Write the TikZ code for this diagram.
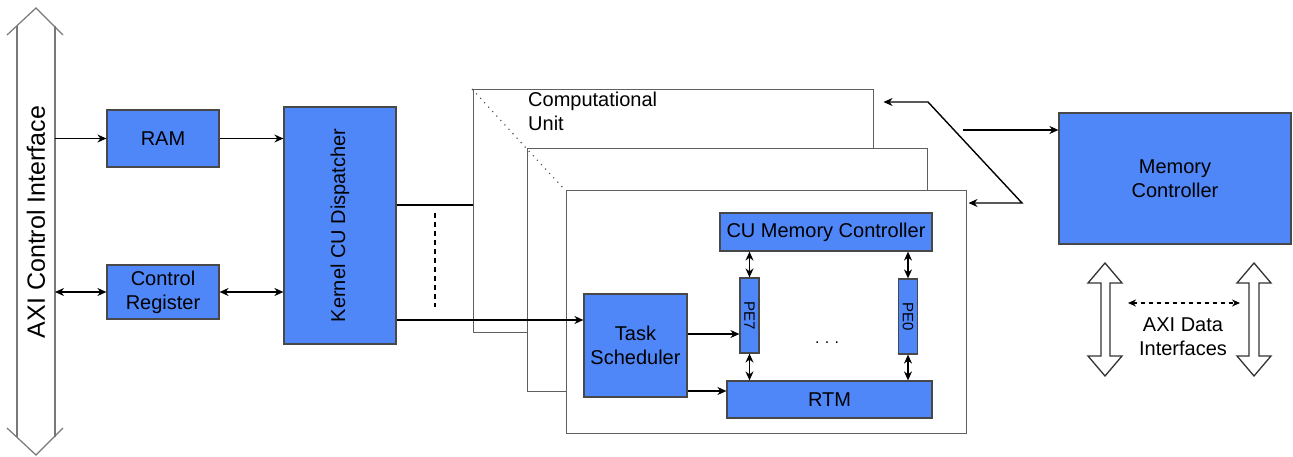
\documentclass[tikz,border=0pt]{standalone}
\usepackage{fontspec}
\setmainfont{Liberation Sans}
\usetikzlibrary{arrows.meta}
\definecolor{blkfill}{RGB}{79,135,248}
\definecolor{blkdraw}{RGB}{72,72,72}
\definecolor{framedraw}{RGB}{95,95,95}
\definecolor{axigrey}{RGB}{120,120,120}
\begin{document}
\begin{tikzpicture}[x=1pt,y=-1pt,
  blk/.style={draw=blkdraw, fill=blkfill, line width=1.2pt, inner sep=1pt, align=center,
    font=\fontsize{20}{24}\selectfont},
  frm/.style={draw=framedraw, fill=white, line width=1pt, minimum width=400pt, minimum height=242pt, inner sep=0pt},
  arr/.style={line width=1.4pt, -{Stealth[length=9pt,width=8pt]}},
  darr/.style={line width=1.4pt, {Stealth[length=9pt,width=8pt]}-{Stealth[length=9pt,width=8pt]}},
  hollow/.style={draw=black!80, fill=white, line width=1.3pt, line join=miter},
  lbl/.style={font=\fontsize{20}{24}\selectfont, align=center, inner sep=0pt}]
\useasboundingbox (0,0) rectangle (1293,457);
\fill[white] (0,0) rectangle (1293,457);

% AXI control interface (open double arrow outline)
\begin{scope}[draw=axigrey, line width=1.2pt]
\draw (7,35) -- (36,8) -- (63,35);
\draw (17,26) -- (17,437);
\draw (55,26) -- (55,437);
\draw (7,428) -- (36,455) -- (63,428);
\end{scope}
\node[lbl, rotate=90, font=\fontsize{25}{30}\selectfont] (axi) at (36,222) {AXI Control Interface};
\coordinate (axiE) at (55,222);

% left blocks
\node[blk, minimum width=112pt, minimum height=57pt] (ram) at (163,138.5) {RAM};
\node[blk, minimum width=112pt, minimum height=54pt] (creg) at (163,292) {Control\\Register};
\node[blk, minimum width=112pt, minimum height=237pt] (kcd) at (340,225.5) {};
\node[lbl, rotate=90] (kcdt) at (kcd.center) {Kernel CU Dispatcher};

% computational unit frames
\node[frm] (f1) at (673,211) {};
\node[frm] (f2) at (727,270) {};
\node[frm] (f3) at (766,312) {};
\draw[black!70, line width=1.6pt, line cap=round, dash pattern=on 0pt off 6pt] (f1.north west) -- (f2.north west) -- (f3.north west);
\node[lbl, anchor=north west, align=left] (cut) at (528,92) {Computational\\Unit};

% inner blocks
\node[blk, minimum width=212pt, minimum height=38pt] (cumc) at (826,232) {CU Memory Controller};
\node[blk, minimum width=103pt, minimum height=103pt] (task) at (635.5,345.5) {Task\\Scheduler};
\node[blk, minimum width=19pt, minimum height=75pt] (pe7) at (749.5,315.5) {};
\node[lbl, rotate=-90, font=\fontsize{15}{18}\selectfont] (pe7t) at (pe7.center) {PE7};
\node[blk, minimum width=19pt, minimum height=75pt] (pe0) at (908,316.5) {};
\node[lbl, rotate=-90, font=\fontsize{15}{18}\selectfont] (pe0t) at (pe0.center) {PE0};
\node[blk, minimum width=205pt, minimum height=37pt] (rtm) at (829.5,399.5) {RTM};
\node[lbl, font=\fontsize{16}{18}\selectfont] (dots) at (827,343) {.\,\,.\,\,.};

% memory controller
\node[blk, minimum width=232pt, minimum height=131pt] (mem) at (1175,178.5) {Memory\\Controller};

% AXI data interfaces
\draw[hollow] (1105,263) -- (1122,283) -- (1110,283) -- (1110,356) -- (1122,356) -- (1105,376)
  -- (1088,356) -- (1101,356) -- (1101,283) -- (1088,283) -- cycle;
\draw[hollow] (1254,263) -- (1271,283) -- (1259,283) -- (1259,356) -- (1271,356) -- (1254,376)
  -- (1237,356) -- (1249,356) -- (1249,283) -- (1237,283) -- cycle;
\coordinate (dl) at (1128,303);
\coordinate (dr) at (1240,303);
\draw[line width=1.3pt, dash pattern=on 4pt off 4pt, {Stealth[length=8pt,width=7pt]}-{Stealth[length=8pt,width=7pt]}] (dl) -- (dr);
\node[lbl] (axid) at (1183,337) {AXI Data\\Interfaces};

% connectors left
\draw[arr] (axiE |- ram.west) -- (ram.west);
\draw[darr] (axiE |- creg.west) -- (creg.west);
\draw[arr] (ram.east) -- (ram.east -| kcd.west);
\draw[darr] (creg.east) -- (creg.east -| kcd.west);
\draw[line width=1.4pt] (kcd.east |- 0,205) -- (f1.west |- 0,205);
\draw[arr] (kcd.east |- 0,320) -- (task.west |- 0,320);
\draw[line width=1.6pt, dash pattern=on 5pt off 4pt] (435,213) -- (435,307);

% connectors inside CU
\draw[arr] (task.east |- 0,334) -- (pe7.west |- 0,334);
\draw[arr] (task.east |- 0,391) -- (rtm.west |- 0,391);
\draw[darr] (pe7.north) -- (pe7.north |- cumc.south);
\draw[darr] (pe7.south) -- (pe7.south |- rtm.north);
\draw[darr] (pe0.north) -- (pe0.north |- cumc.south);
\draw[darr] (pe0.south) -- (pe0.south |- rtm.north);

% connectors to memory controller
\coordinate (cuout) at (963,130);
\draw[arr] (cuout) -- (mem.west |- cuout);
\coordinate (bk1) at (928,102);
\coordinate (bk2) at (1022,203);
\draw[darr, line join=miter] ([xshift=10pt]f1.east |- bk1) -- (bk1) -- (bk2) -- ([xshift=2pt]f3.east |- bk2);
\end{tikzpicture}
\end{document}
